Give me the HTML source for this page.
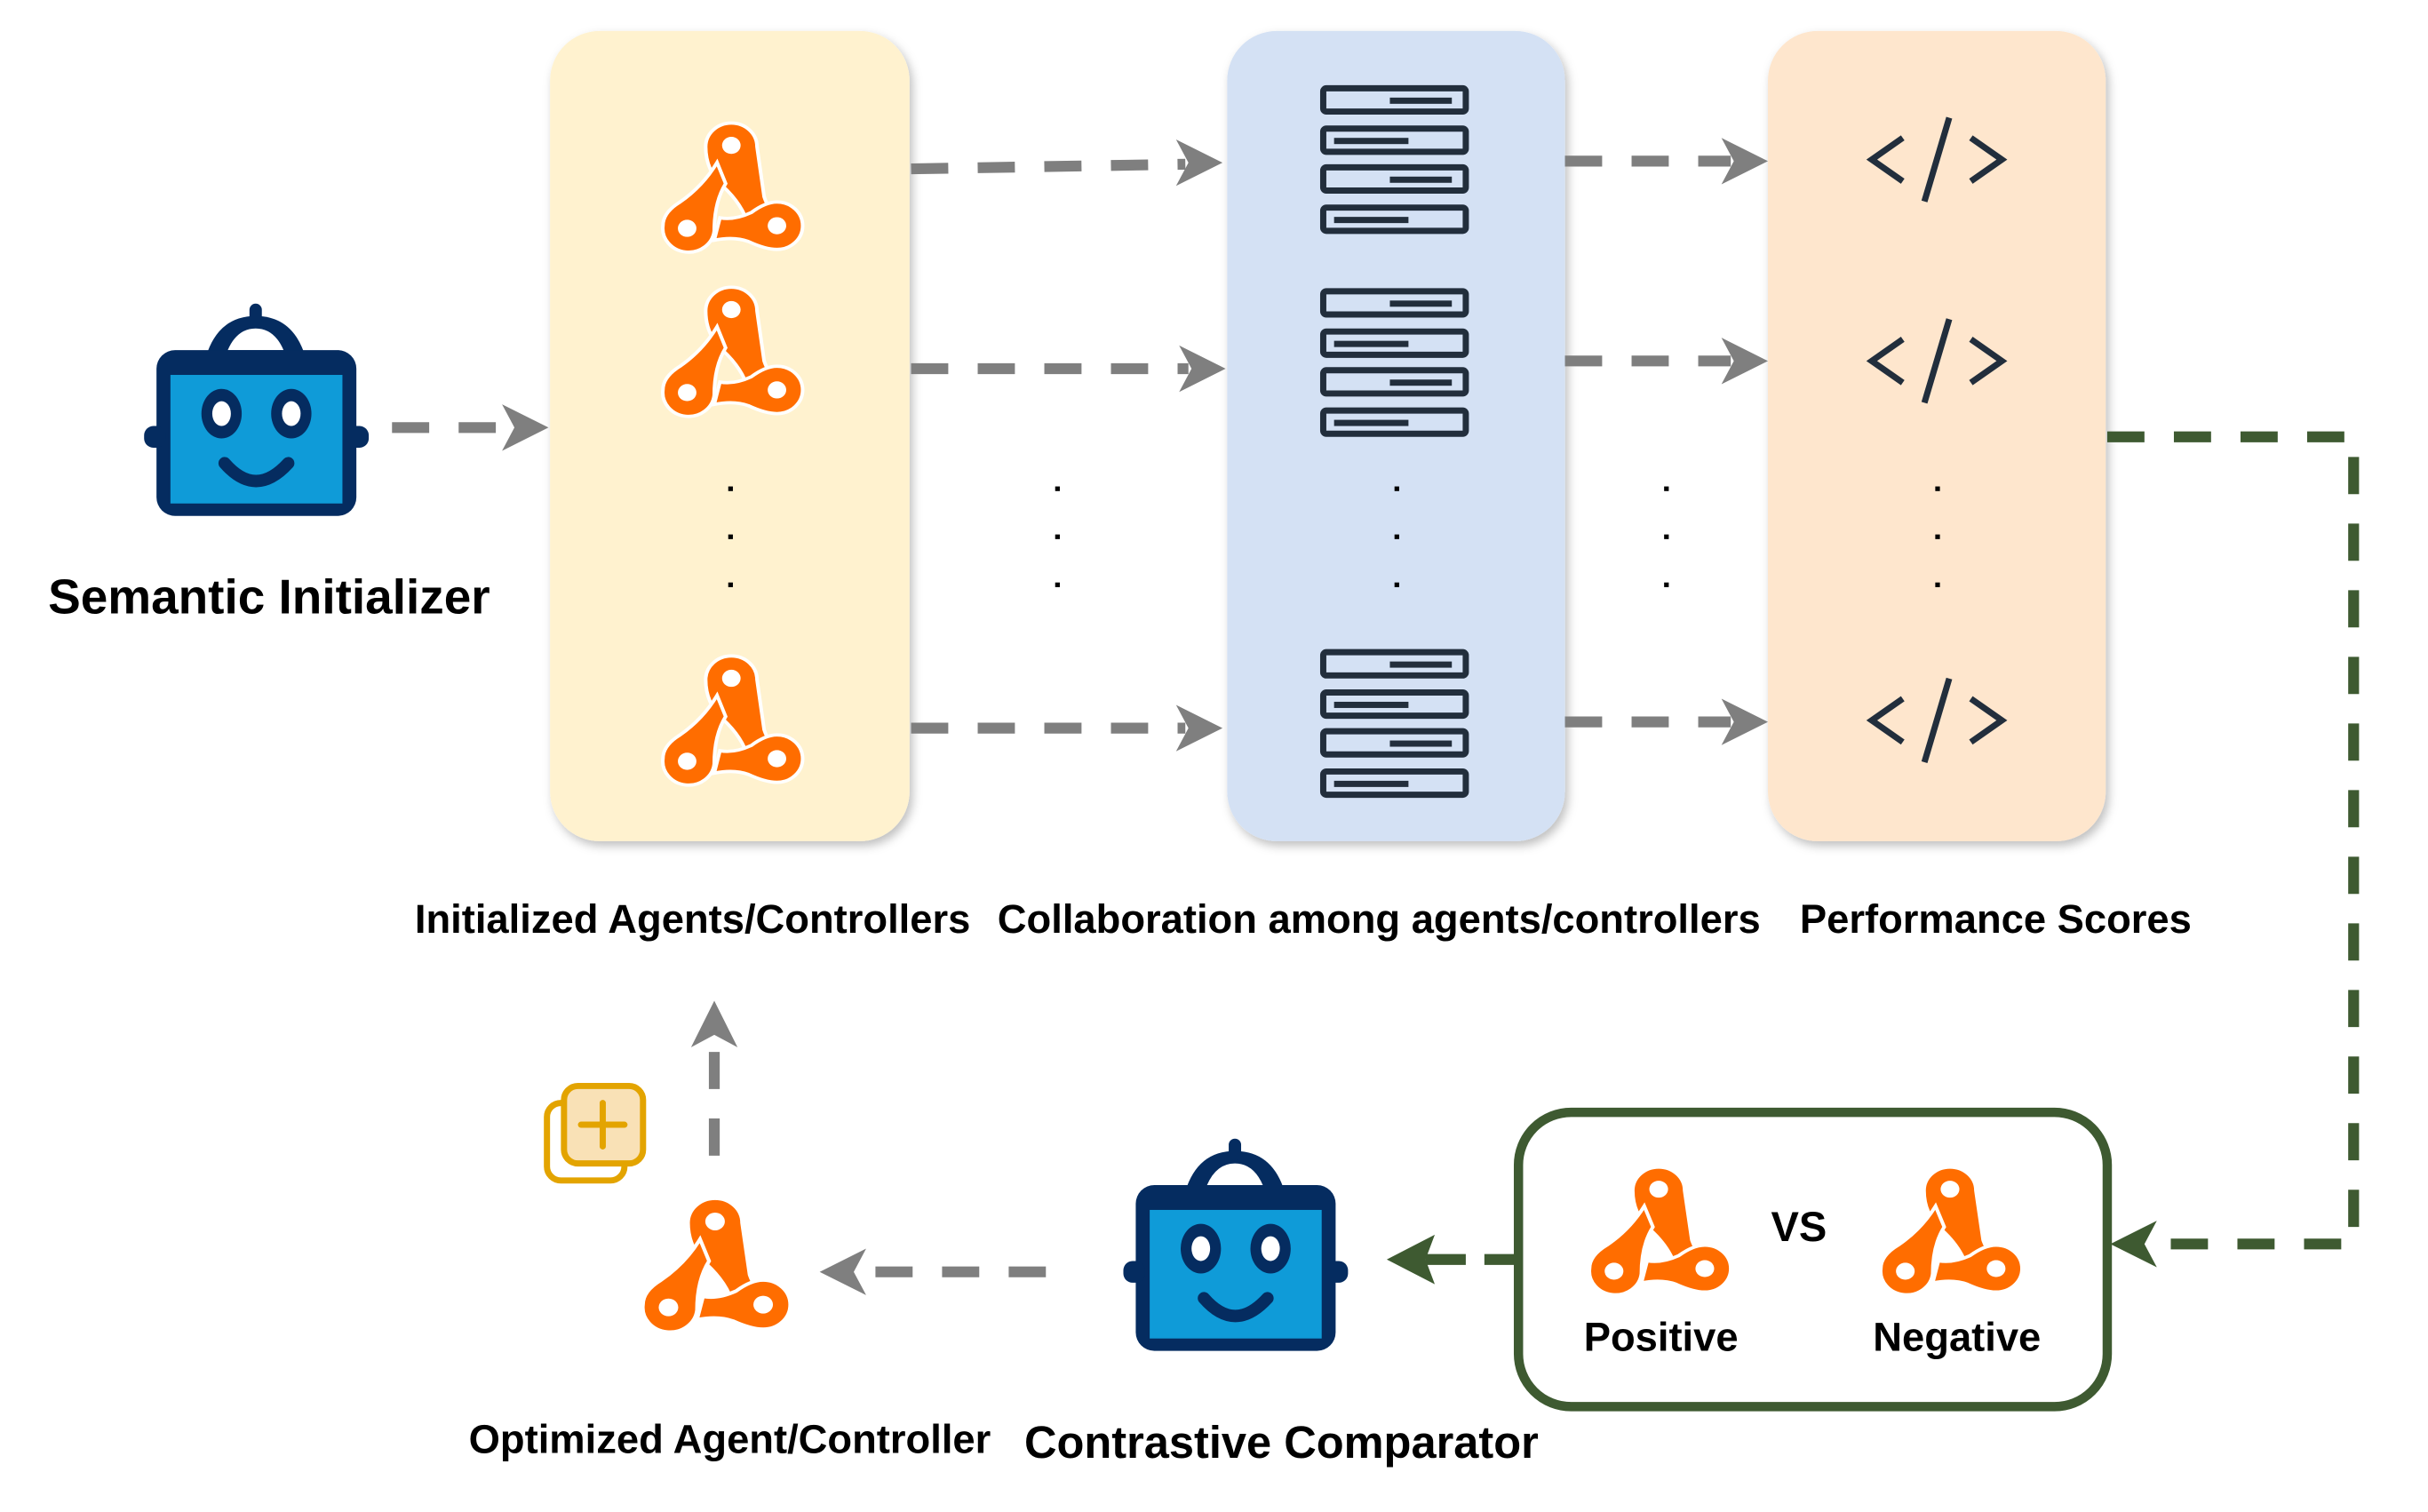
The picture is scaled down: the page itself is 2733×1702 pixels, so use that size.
<!DOCTYPE html>
<html><head><meta charset="utf-8"><style>
html,body{margin:0;padding:0;background:#fff}
svg{display:block}
text{font-family:"Liberation Sans",sans-serif;font-weight:bold;fill:#000}
</style></head><body>
<svg width="2733" height="1702" viewBox="0 0 1567 976" preserveAspectRatio="none" xmlns="http://www.w3.org/2000/svg">
<defs>
<filter id="sh" x="-10%" y="-10%" width="130%" height="130%"><feDropShadow dx="2" dy="3" stdDeviation="3" flood-color="#000" flood-opacity="0.25"/></filter>
<g id="link">
  <path d="M50,4 a18,18 0 0 1 18,18 L73,60 Q76,70 84,76 L62,82 Q58,66 44,52 Q32,40 32,22 A18,18 0 0 1 50,4Z" fill="#FF6D00" stroke="#fff" stroke-width="2.5"/>
  <path d="M2,82 A18,18 0 0 0 38,86 Q38,64 46,50 L40,34 Q30,52 14,64 Q2,72 2,82Z" fill="#FF6D00" stroke="#fff" stroke-width="2.5"/>
  <path d="M82,64 A18,18 0 1 1 82,100 Q74,100 62,94 Q52,90 38,93 L42,76 Q52,78 64,72 Q74,64 82,64Z" fill="#FF6D00" stroke="#fff" stroke-width="2.5"/>
  <circle cx="50" cy="21" r="6.5" fill="#fff"/>
  <circle cx="19" cy="84" r="6.5" fill="#fff"/>
  <circle cx="82" cy="82" r="6.5" fill="#fff"/>
</g>
<g id="robot">
  <path d="M40,34 Q48,8 72,8 Q96,8 104,34Z" fill="#052C60"/>
  <path d="M54,30 Q60,16 72,16 Q84,16 90,30Z" fill="#fff"/>
  <rect x="68" y="0" width="8" height="14" rx="4" fill="#052C60"/>
  <rect x="8" y="30" width="129" height="107" rx="12" fill="#052C60"/>
  <rect x="17" y="46" width="111" height="83" fill="#0F9BD8"/>
  <rect x="0" y="79" width="14" height="14" rx="6" fill="#052C60"/>
  <rect x="131" y="79" width="14" height="14" rx="6" fill="#052C60"/>
  <ellipse cx="50" cy="71" rx="13" ry="16" fill="#052C60"/><ellipse cx="50" cy="71" rx="6" ry="8" fill="#fff"/>
  <ellipse cx="95" cy="71" rx="13" ry="16" fill="#052C60"/><ellipse cx="95" cy="71" rx="6" ry="8" fill="#fff"/>
  <path d="M52,103 Q72,126 93,103" fill="none" stroke="#052C60" stroke-width="8" stroke-linecap="round"/>
</g>
<g id="srv" fill="none" stroke="#222E3C" stroke-width="4">
  <rect x="2" y="2" width="92" height="15" rx="2"/><rect x="2" y="28" width="92" height="15" rx="2"/>
  <rect x="2" y="53" width="92" height="15" rx="2"/><rect x="2" y="79" width="92" height="15" rx="2"/>
  <rect x="45" y="8" width="40" height="4" fill="#222E3C" stroke="none"/>
  <rect x="9" y="34" width="48" height="4" fill="#222E3C" stroke="none"/>
  <rect x="45" y="59" width="40" height="4" fill="#222E3C" stroke="none"/>
  <rect x="9" y="85" width="48" height="4" fill="#222E3C" stroke="none"/>
</g>
<g id="code" fill="none" stroke="#222E3C" stroke-width="4">
  <path d="M-22,-14 L-42,0 L-22,14"/><path d="M22,-14 L42,0 L22,14"/><path d="M8,-27 L-8,27"/>
</g>
<path id="ah" d="M0,0 L-30,-15 L-22,0 L-30,15Z"/>
</defs>

<rect x="355" y="20" width="232" height="523" rx="32" fill="#FFF2CF" filter="url(#sh)"/>
<rect x="792" y="20" width="218" height="523" rx="32" fill="#D4E1F4" filter="url(#sh)"/>
<rect x="1141" y="20" width="218" height="523" rx="32" fill="#FEE6CD" filter="url(#sh)"/>

<use href="#link" transform="translate(426,76) scale(0.92,0.85)"/>
<use href="#link" transform="translate(426,182) scale(0.92,0.85)"/>
<use href="#link" transform="translate(426,420) scale(0.92,0.85)"/>
<use href="#srv" transform="translate(852,55)"/>
<use href="#srv" transform="translate(852,186)"/>
<use href="#srv" transform="translate(852,419)"/>
<use href="#code" transform="translate(1250,103)"/>
<use href="#code" transform="translate(1250,233)"/>
<use href="#code" transform="translate(1250,465)"/>

<g fill="#000">
<rect x="470" y="314" width="3" height="3"/><rect x="470" y="345" width="3" height="3"/><rect x="470" y="376" width="3" height="3"/>
<rect x="681" y="314" width="3" height="3"/><rect x="681" y="345" width="3" height="3"/><rect x="681" y="376" width="3" height="3"/>
<rect x="900" y="314" width="3" height="3"/><rect x="900" y="345" width="3" height="3"/><rect x="900" y="376" width="3" height="3"/>
<rect x="1074" y="314" width="3" height="3"/><rect x="1074" y="345" width="3" height="3"/><rect x="1074" y="376" width="3" height="3"/>
<rect x="1249" y="314" width="3" height="3"/><rect x="1249" y="345" width="3" height="3"/><rect x="1249" y="376" width="3" height="3"/>
</g>

<g stroke="#7F7F7F" stroke-width="7" stroke-dasharray="24,19" fill="none">
<line x1="253" y1="276" x2="330" y2="276"/>
<line x1="588" y1="109" x2="765" y2="106"/>
<line x1="588" y1="238" x2="767" y2="238"/>
<line x1="588" y1="470" x2="765" y2="470"/>
<line x1="1010" y1="104" x2="1117" y2="104"/>
<line x1="1010" y1="233" x2="1117" y2="233"/>
<line x1="1010" y1="466" x2="1117" y2="466"/>
<line x1="675" y1="821" x2="555" y2="821"/>
<line x1="461" y1="746" x2="461" y2="672"/>
</g>
<g fill="#7F7F7F">
<use href="#ah" transform="translate(354,276)"/>
<use href="#ah" transform="translate(789,105)"/>
<use href="#ah" transform="translate(791,238)"/>
<use href="#ah" transform="translate(789,470)"/>
<use href="#ah" transform="translate(1141,104)"/>
<use href="#ah" transform="translate(1141,233)"/>
<use href="#ah" transform="translate(1141,466)"/>
<use href="#ah" transform="translate(529,821) rotate(180)"/>
<use href="#ah" transform="translate(461,646) rotate(-90)"/>
</g>

<use href="#robot" transform="translate(93,196)"/>
<use href="#robot" transform="translate(725,735)"/>

<path d="M1360,282 H1519 V803 H1390" fill="none" stroke="#3E5A31" stroke-width="7" stroke-dasharray="24,19"/>
<path d="M1362,803 L1392,788 L1384,803 L1392,818Z" fill="#3E5A31"/>
<line x1="980" y1="813" x2="958" y2="813" stroke="#3E5A31" stroke-width="7"/>
<line x1="946" y1="813" x2="920" y2="813" stroke="#3E5A31" stroke-width="7"/>
<path d="M895,813 L926,797 L920,813 L926,829Z" fill="#3E5A31"/>
<rect x="980" y="718" width="380" height="190" rx="34" fill="#fff" stroke="#3E5A31" stroke-width="6"/>
<use href="#link" transform="translate(1024,750) scale(0.93,0.84)"/>
<use href="#link" transform="translate(1212,750) scale(0.93,0.84)"/>
<text x="1161" y="801" font-size="27" text-anchor="middle">VS</text>
<text x="1072" y="872" font-size="26" text-anchor="middle">Positive</text>
<text x="1263" y="872" font-size="26" text-anchor="middle">Negative</text>

<use href="#link" transform="translate(413,770) scale(0.97,0.88)"/>
<rect x="353" y="712" width="50" height="50" rx="9" fill="#fff" stroke="#E3A400" stroke-width="4"/>
<rect x="364" y="701" width="51" height="50" rx="9" fill="#F9E1B6" stroke="#E3A400" stroke-width="4"/>
<path d="M389,712 V740 M375,726 H403" stroke="#E3A400" stroke-width="4" stroke-linecap="round"/>

<text x="31" y="396" font-size="31.5">Semantic Initializer</text>
<text x="447" y="602" font-size="26" text-anchor="middle">Initialized Agents/Controllers</text>
<text x="890" y="602" font-size="26" text-anchor="middle">Collaboration among agents/controllers</text>
<text x="1288" y="602" font-size="26" text-anchor="middle">Performance Scores</text>
<text x="471" y="938" font-size="26" text-anchor="middle">Optimized Agent/Controller</text>
<text x="827" y="941" font-size="29" text-anchor="middle">Contrastive Comparator</text>
</svg>
</body></html>
